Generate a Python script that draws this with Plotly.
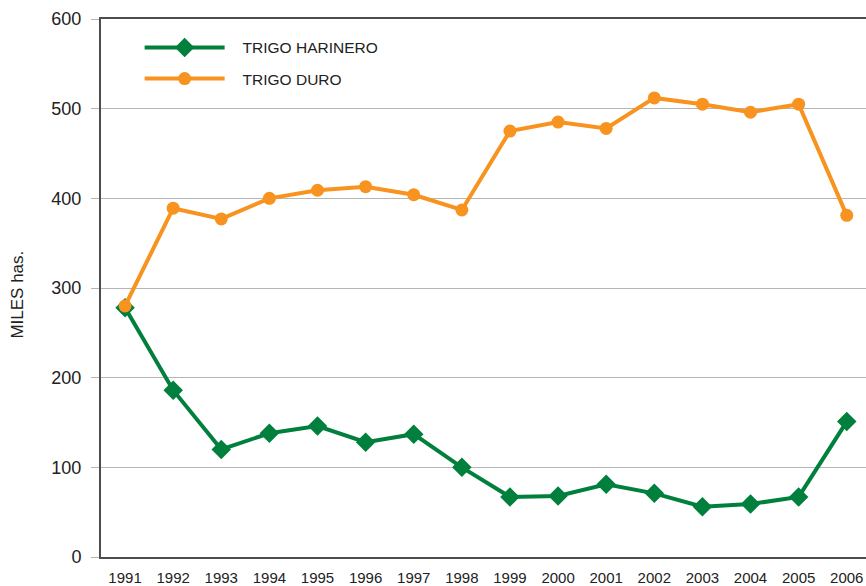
import plotly.graph_objects as go

years = list(range(1991, 2007))
year_labels = [str(y) for y in years]
trigo_harinero = [278, 186, 120, 138, 146, 128, 137, 100, 67, 68, 81, 71, 56, 59, 67, 151]
trigo_duro = [280, 389, 377, 400, 409, 413, 404, 387, 475, 485, 478, 512, 505, 496, 505, 381]
y_ticks = [0, 100, 200, 300, 400, 500, 600]

GREEN = "#00803C"
ORANGE = "#F7931E"
FONT = "Liberation Sans, Arial, sans-serif"
NB = "\u00a0\u00a0\u00a0"

fig = go.Figure()
fig.add_trace(go.Scatter(
    x=years, y=trigo_harinero, name=NB + "TRIGO HARINERO", mode="lines+markers",
    legendgroup="a",
    line=dict(color=GREEN, width=4),
    marker=dict(symbol="diamond", size=15, color=GREEN),
))
fig.add_trace(go.Scatter(
    x=years, y=trigo_duro, name=NB + "TRIGO DURO", mode="lines+markers",
    legendgroup="b",
    line=dict(color=ORANGE, width=4),
    marker=dict(symbol="circle", size=13, color=ORANGE),
))

fig.update_layout(
    width=866, height=586,
    margin=dict(l=101, r=0, t=19, b=27),
    paper_bgcolor="white", plot_bgcolor="white",
    showlegend=True,
    legend=dict(
        x=0.0505, y=0.978, xanchor="left", yanchor="top",
        bgcolor="rgba(0,0,0,0)", itemwidth=80,
        font=dict(family=FONT, size=15.5, color="#222"),
        tracegroupgap=8,
    ),
    xaxis=dict(
        range=[1990.5, 2006.4], tickmode="array", tickvals=years, ticktext=year_labels,
        showgrid=False, zeroline=False,
        showline=True, linecolor="#4d4d4d", linewidth=2, mirror=True,
        ticks="", ticklabelstandoff=6,
        tickfont=dict(family=FONT, size=15, color="#222"),
    ),
    yaxis=dict(
        range=[0, 600], tickvals=y_ticks,
        showgrid=True, gridcolor="#b5b5b5", gridwidth=1, zeroline=False,
        showline=True, linecolor="#4d4d4d", linewidth=2,
        ticks="outside", ticklen=8, tickcolor="#b5b5b5", tickwidth=1,
        ticklabelstandoff=6,
        tickfont=dict(family=FONT, size=18, color="#222"),
    ),
    annotations=[dict(
        text="MILES has.", xref="paper", yref="paper",
        x=-0.109, y=0.487, xanchor="center", yanchor="middle",
        textangle=-90, showarrow=False,
        font=dict(family=FONT, size=17, color="#222"),
    )],
)

fig.write_html(
    "out.html",
    config={"displayModeBar": False},
    post_script="document.body.style.margin='0';document.body.style.overflow='hidden';",
)
